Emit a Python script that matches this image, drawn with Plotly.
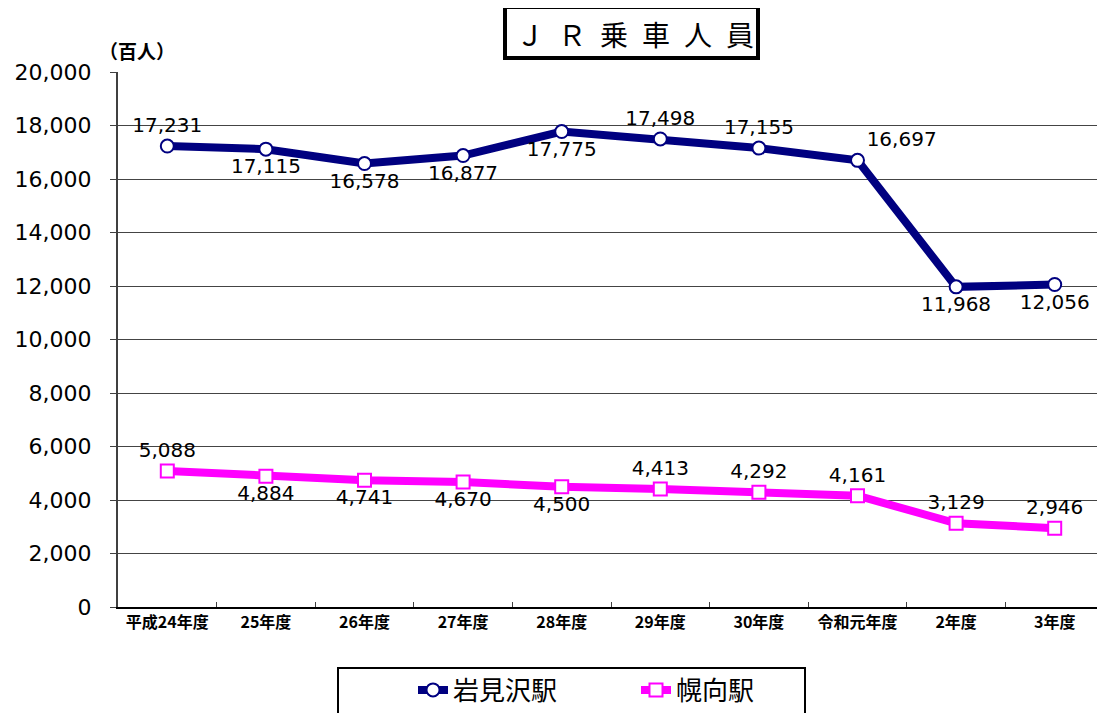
import plotly.graph_objects as go

categories = ["平成24年度", "25年度", "26年度", "27年度", "28年度", "29年度", "30年度", "令和元年度", "2年度", "3年度"]
iwamizawa = [17231, 17115, 16578, 16877, 17775, 17498, 17155, 16697, 11968, 12056]
horomui = [5088, 4884, 4741, 4670, 4500, 4413, 4292, 4161, 3129, 2946]
iwa_pos = ["top center", "bottom center", "bottom center", "bottom center", "bottom center",
           "top center", "top center", "top right", "bottom center", "bottom center"]
hor_pos = ["top center", "bottom center", "bottom center", "bottom center", "bottom center",
           "top center", "top center", "top center", "top center", "top center"]

# page body has an 8px default margin; compensate so the figure lands where the reference is
OFF = 8
W, H = 1105 - OFF, 713 - OFF
L, R, T, B = 118, 1104, 72, 607   # plot area in window pixels
pw, ph = R - L, B - T

def px(x):
    return (x - L) / pw

def py(y):
    return (B - y) / ph

num_family = "DejaVu Sans, Verdana, sans-serif"
num_font = dict(family=num_family, size=20, color="black")
jp_font = "Noto Sans CJK JP, sans-serif"

fig = go.Figure()
fig.add_trace(go.Scatter(
    x=categories, y=iwamizawa, name="岩見沢駅", mode="lines+markers+text",
    line=dict(color="#000080", width=8),
    marker=dict(symbol="circle", size=13, color="white", line=dict(color="#000080", width=2)),
    text=[f"{v:,}" for v in iwamizawa], textposition=iwa_pos, textfont=num_font,
))
fig.add_trace(go.Scatter(
    x=categories, y=horomui, name="幌向駅", mode="lines+markers+text",
    line=dict(color="#FF00FF", width=8),
    marker=dict(symbol="square", size=13, color="white", line=dict(color="#FF00FF", width=2)),
    text=[f"{v:,}" for v in horomui], textposition=hor_pos, textfont=num_font,
))

fig.update_layout(
    width=W, height=H,
    margin=dict(l=L - OFF, r=(W + OFF) - R, t=T - OFF, b=(H + OFF) - B, autoexpand=False),
    paper_bgcolor="white", plot_bgcolor="white",
    showlegend=True,
    legend=dict(orientation="h", x=px(413), xanchor="left", y=py(690), yanchor="middle",
                font=dict(family=jp_font, size=26, color="black"),
                bgcolor="rgba(0,0,0,0)", entrywidth=178, entrywidthmode="pixels"),
    xaxis=dict(type="category", showgrid=False, showline=True, linecolor="black", linewidth=2,
               ticks="inside", tickson="boundaries", ticklen=5, tickcolor="#404040",
               tickfont=dict(family=jp_font, size=16, color="black", weight="bold"),
               range=[-0.5, 9.5]),
    yaxis=dict(range=[0, 20000], dtick=2000, tickformat=",", showgrid=True,
               gridcolor="#444444", gridwidth=1, showline=True, linecolor="#404040", linewidth=2,
               ticks="outside", ticklen=6, tickcolor="#404040", ticklabelstandoff=14,
               tickfont=dict(family=num_family, size=22, color="black"),
               zeroline=False),
    shapes=[
        dict(type="line", xref="paper", yref="paper", x0=1, x1=1, y0=0, y1=1,
             line=dict(color="#999999", width=1)),
        dict(type="rect", xref="paper", yref="paper", x0=px(338), x1=px(805), y0=py(668), y1=py(730),
             line=dict(color="black", width=2), fillcolor="rgba(0,0,0,0)"),
        dict(type="rect", xref="paper", yref="paper", x0=px(505), x1=px(758), y0=py(7), y1=py(58),
             line=dict(color="black", width=4), fillcolor="white"),
    ],
    annotations=[
        dict(text="Ｊ\u2002Ｒ\u2002乗\u2002車\u2002人\u2002員", xref="paper", yref="paper",
             x=px(635), y=py(34), xanchor="center", yanchor="middle", showarrow=False,
             font=dict(family=jp_font, size=28, color="black")),
        dict(text="（百人）", xref="paper", yref="paper", x=px(137), y=py(51),
             xanchor="center", yanchor="middle", showarrow=False,
             font=dict(family=jp_font, size=19, color="black", weight="bold")),
    ],
)

fig.write_html("out.html")
